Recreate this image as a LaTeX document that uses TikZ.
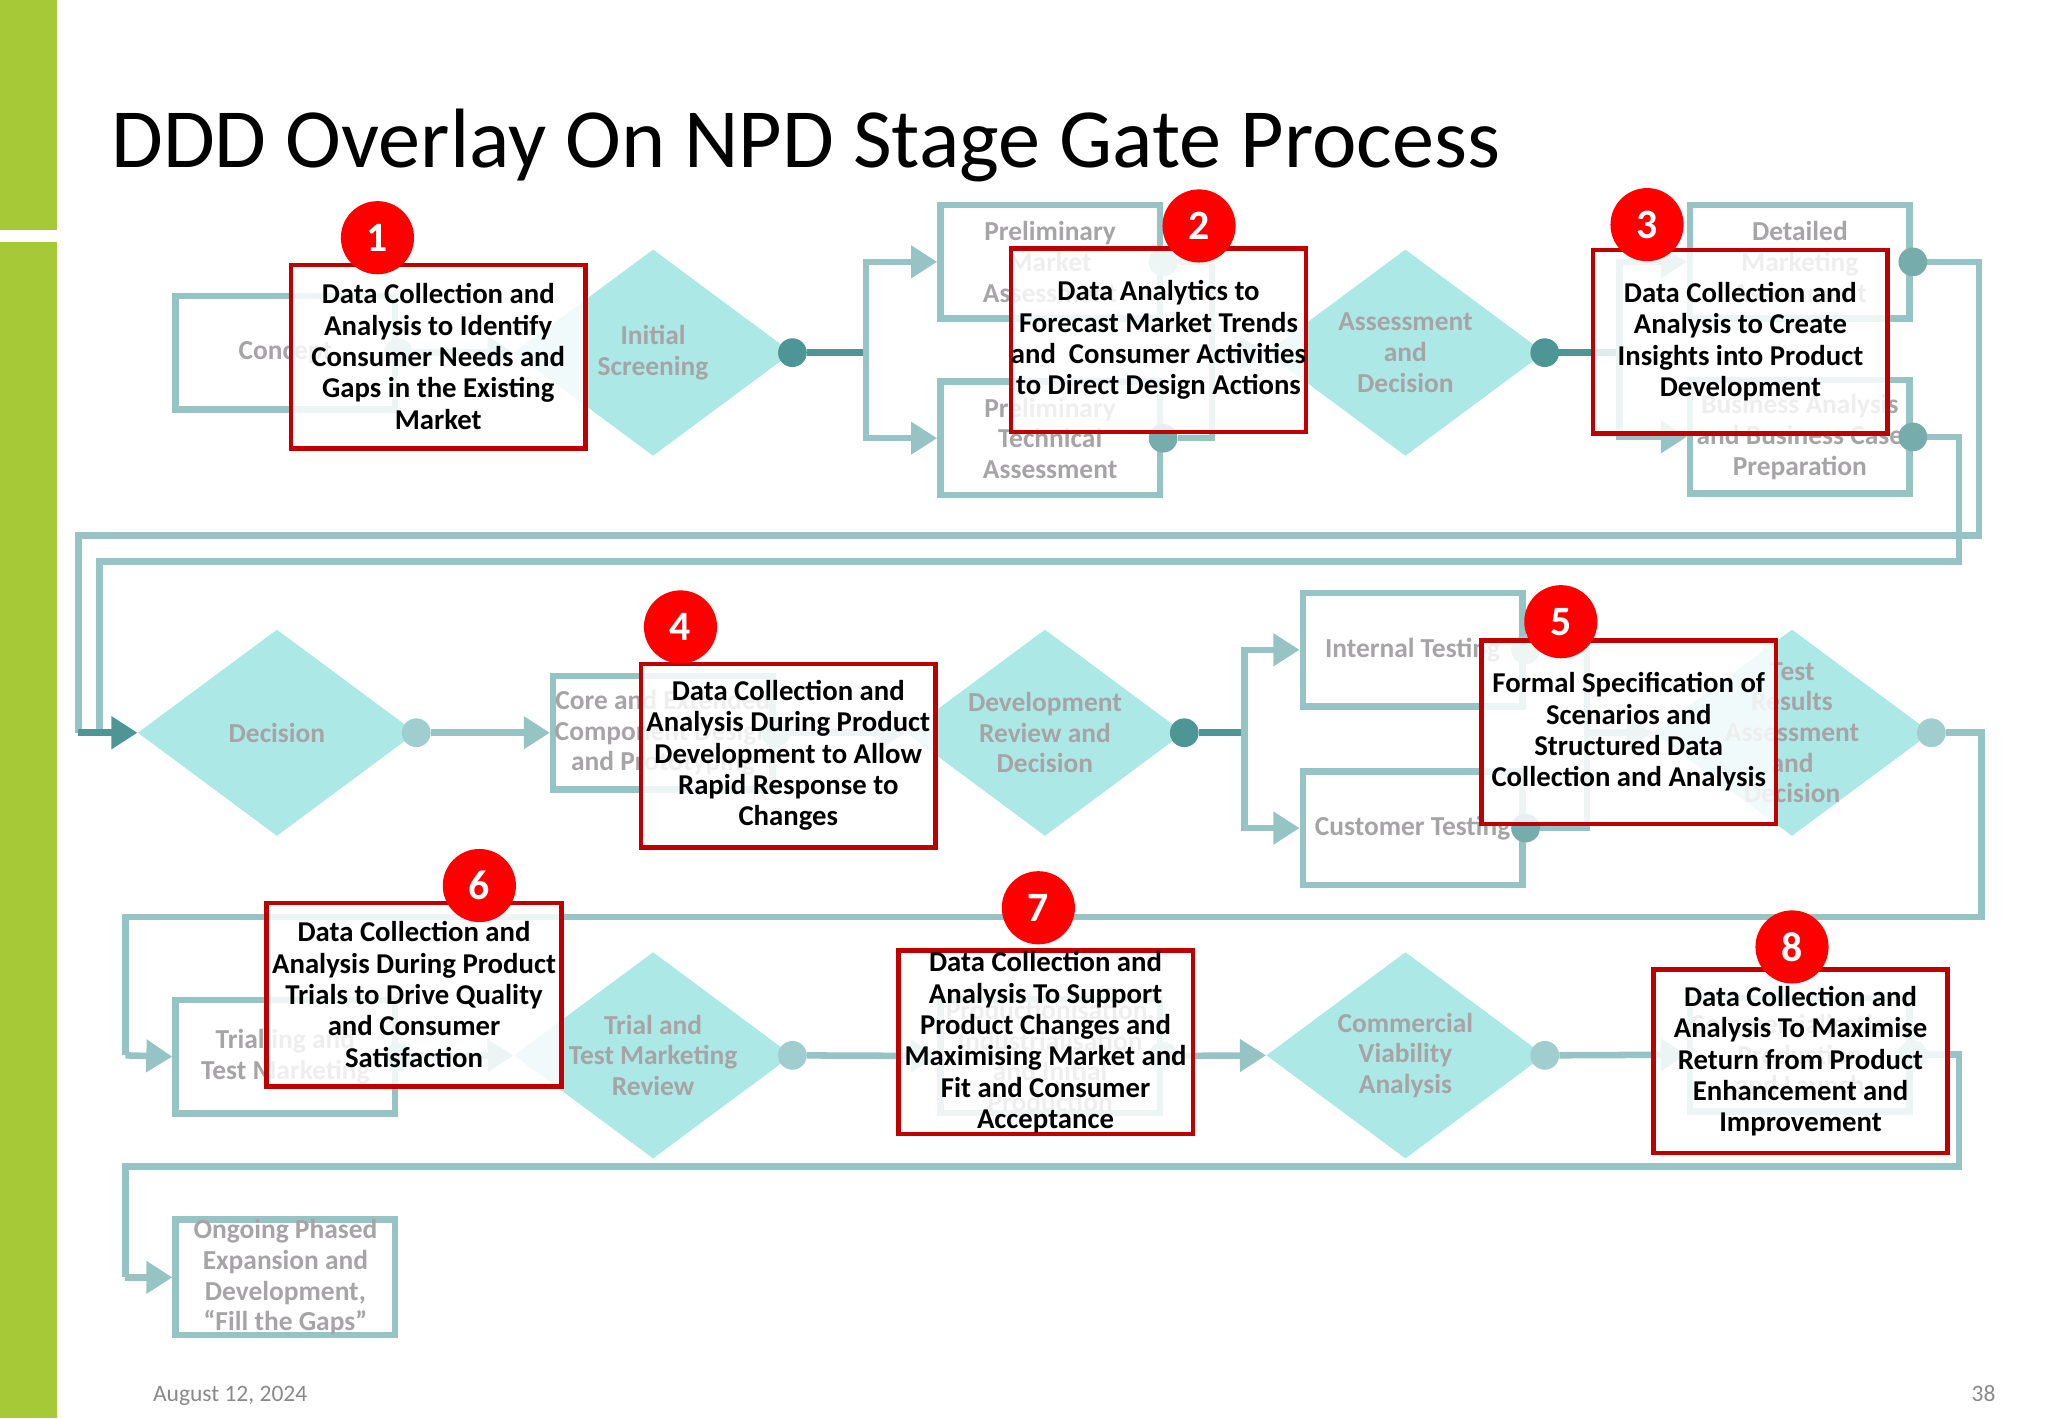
\documentclass[tikz,border=0pt]{standalone}
\usepackage{fontspec}
\setmainfont{Carlito}
\usetikzlibrary{arrows.meta,shapes.geometric,backgrounds}
\definecolor{greenbar}{RGB}{166,201,55}
\definecolor{tealc}{RGB}{150,196,196}
\definecolor{tealdk}{RGB}{78,150,150}
\definecolor{tealmd}{RGB}{118,172,172}
\definecolor{teallt}{RGB}{160,205,205}
\definecolor{tealfd}{RGB}{205,228,228}
\definecolor{diac}{RGB}{172,232,230}
\definecolor{ptextc}{RGB}{166,164,166}
\definecolor{redbox}{RGB}{192,0,0}
\definecolor{redcirc}{RGB}{255,0,0}
\definecolor{footc}{RGB}{137,137,137}
\tikzset{
  pbox/.style={draw=tealc, line width=5pt, fill=white, minimum width=168pt, minimum height=87pt,
    inner sep=0pt, text=ptextc, font=\fontsize{21}{23.5}\selectfont\bfseries, align=center},
  ptext/.style={text=ptextc, font=\fontsize{21}{23.5}\selectfont\bfseries, align=center, inner sep=0pt},
  dia/.style={diamond, fill=diac, minimum width=213pt, minimum height=158pt, inner sep=0pt},
  dotn/.style={circle, minimum size=22pt, inner sep=0pt, fill=#1},
  conn/.style={draw=tealc, line width=5pt},
  conndk/.style={draw=tealdk, line width=5pt},
  arr/.style={-{Triangle[length=20pt,width=24pt]}},
  redb/.style={draw=redbox, line width=3.5pt, fill=white, fill opacity=0.82, text opacity=1,
    minimum width=225.5pt, minimum height=140.5pt, inner sep=0pt,
    font=\fontsize{22}{24}\selectfont\bfseries, align=center, text=black},
  numc/.style={circle, fill=redcirc, minimum size=56pt, inner sep=0pt, text=white,
    font=\fontsize{32}{32}\selectfont\bfseries},
}
\begin{document}
\begin{tikzpicture}[x=1pt,y=-1pt]
\useasboundingbox (0,0) rectangle (1568,1086);
% green bar
\fill[greenbar] (0,0) rectangle (44,176);
\fill[greenbar] (0,185) rectangle (44,1086);

% title
\node[anchor=base west, inner sep=0pt, font=\fontsize{64.5}{72}\selectfont] (title) at (85,128) {DDD Overlay On NPD Stage Gate Process};

% ---- process boxes ----
\node[pbox] (concept) at (218.5,270) {Concept};
\node[pbox] (pma) at (804,200.5) {Preliminary\\Market\\Assessment};
\node[pbox] (pta) at (804,335.5) {Preliminary\\Technical\\Assessment};
\node[pbox] (dma) at (1378,200.5) {Detailed\\Marketing\\Assessment};
\node[pbox] (bab) at (1378,334.5) {Business Analysis\\and Business Case\\Preparation};
\node[pbox] (core) at (507.5,561) {Core and Extended\\Component Design\\and Prototyping};
\node[pbox] (internal) at (1081.5,497.5) {Internal Testing};
\node[pbox] (customer) at (1081.5,634) {Customer Testing};
\node[pbox] (trialling) at (218.5,809) {Trialling and\\Test Marketing};
\node[pbox] (product) at (804,808.5) {Productionisation,\\Industrialisation\\and Initial\\Production};
\node[pbox] (commercial) at (1378,807.5) {Commercialisation,\\Production\\and Launch};
\node[pbox] (ongoing) at (218.5,978) {Ongoing Phased\\Expansion and\\Development,\\“Fill the Gaps”};

% ---- diamonds ----
\node[dia] (screen) at (500,270) {};
\node[dia] (assess) at (1076,270) {};
\node[dia] (decision) at (212,561) {};
\node[dia] (devrev) at (800,561) {};
\node[dia] (testres) at (1372,561) {};
\node[dia] (trialrev) at (500,808) {};
\node[dia] (commvia) at (1076,808) {};
\node[ptext] (screent) at (screen.center) {Initial\\Screening};
\node[ptext] (assesst) at (assess.center) {Assessment\\and\\Decision};
\node[ptext] (decisiont) at (decision.center) {Decision};
\node[ptext] (devrevt) at (devrev.center) {Development\\Review and\\Decision};
\node[ptext] (testrest) at (testres.center) {Test\\Results\\Assessment\\and\\Decision};
\node[ptext] (trialrevt) at (trialrev.center) {Trial and\\Test Marketing\\Review};
\node[ptext] (commviat) at (commvia.center) {Commercial\\Viability\\Analysis};

% ---- dots ----
\node[dotn=teallt] (dcon) at (concept.east) {};
\node[dotn=tealdk] (dscr) at (screen.east) {};
\node[dotn=teallt] (dpma) at (pma.east) {};
\node[dotn=tealmd] (dpta) at (pta.east) {};
\node[dotn=tealdk] (dass) at (assess.east) {};
\node[dotn=tealmd] (ddma) at (dma.east) {};
\node[dotn=tealmd] (dbab) at (bab.east) {};
\node[dotn=teallt] (ddec) at (decision.east) {};
\node[dotn=teallt] (dcore) at (core.east) {};
\node[dotn=tealdk] (ddev) at (devrev.east) {};
\node[dotn=teallt] (dint) at (internal.east) {};
\node[dotn=tealmd] (dcus) at (customer.east) {};
\node[dotn=teallt] (dtes) at (testres.east) {};
\node[dotn=teallt] (dtri) at (trialling.east) {};
\node[dotn=teallt] (dtrv) at (trialrev.east) {};
\node[dotn=teallt] (dpro) at (product.east) {};
\node[dotn=teallt] (dcv) at (commvia.east) {};
\node[dotn=teallt] (dcom) at (commercial.east) {};

% ---- connectors ----
\coordinate (f1) at (663,270);
\coordinate (j1) at (928,270);
\coordinate (f2) at (1240,270);
\coordinate (r1) at (1515,410);
\coordinate (l1) at (60,561);
\coordinate (r2) at (1500,430);
\coordinate (l2) at (76,561);
\coordinate (f3) at (953,561);
\coordinate (j2) at (1215,561);
\coordinate (r3) at (1517,702);
\coordinate (l3) at (96,808);
\coordinate (r4) at (1500,893);
\coordinate (l4) at (96,978);
\begin{scope}[on background layer]
\draw[conn,arr] (dcon) -- (screen.west);
\draw[conndk] (dscr) -- (f1);
\draw[conn,arr] (f1) |- (pma.west);
\draw[conn,arr] (f1) |- (pta.west);
\draw[conn] (dpma) -| (j1);
\draw[conn] (dpta) -| (j1);
\draw[conn,arr] (j1) -- (assess.west);
\draw[conndk] (dass) -- (f2);
\draw[conn,arr] (f2) |- (dma.west);
\draw[conn,arr] (f2) |- (bab.west);
\draw[conn] (ddma) -| (r1) -| (l1);
\draw[conn] (dbab) -| (r2) -| (l2);
\draw[conndk,arr] (l1) -- (decision.west);
\draw[conn,arr] (ddec) -- (core.west);
\draw[conn,arr] (dcore) -- (devrev.west);
\draw[conndk] (ddev) -- (f3);
\draw[conn,arr] (f3) |- (internal.west);
\draw[conn,arr] (f3) |- (customer.west);
\draw[conn] (dint) -| (j2);
\draw[conn] (dcus) -| (j2);
\draw[conn,arr] (j2) -- (testres.west);
\draw[conn] (dtes) -| (r3) -| (l3);
\draw[conn,arr] (l3) -- (trialling.west);
\draw[conn,arr] (dtri) -- (trialrev.west);
\draw[conn,arr] (dtrv) -- (product.west);
\draw[conn,arr] (dpro) -- (commvia.west);
\draw[conn,arr] (dcv) -- (commercial.west);
\draw[conn] (dcom) -| (r4) -| (l4);
\draw[conn,arr] (l4) -- (ongoing.west);
\end{scope}

% ---- red overlay boxes ----
\node[redb] (b1) at (335.5,273) {Data Collection and\\Analysis to Identify\\Consumer Needs and\\Gaps in the Existing\\Market};
\node[redb] (b2) at (887,260.5) {Data Analytics to\\Forecast Market Trends\\and\ \ Consumer Activities\\to Direct Design Actions};
\node[redb] (b3) at (1332.5,261.5) {Data Collection and\\Analysis to Create\\Insights into Product\\Development};
\node[redb] (b4) at (603.5,578.5) {Data Collection and\\Analysis During Product\\Development to Allow\\Rapid Response to\\Changes};
\node[redb] (b5) at (1247,560.5) {Formal Specification of\\Scenarios and\\Structured Data\\Collection and Analysis};
\node[redb] (b6) at (317,761.5) {Data Collection and\\Analysis During Product\\Trials to Drive Quality\\and Consumer\\Satisfaction};
\node[redb] (b7) at (800.5,798) {Data Collection and\\Analysis To Support\\Product Changes and\\Maximising Market and\\Fit and Consumer\\Acceptance};
\node[redb] (b8) at (1378.5,812.5) {Data Collection and\\Analysis To Maximise\\Return from Product\\Enhancement and\\Improvement};

% ---- number circles ----
\node[numc] (n1) at (289,182) {1};
\node[numc] (n2) at (918,173) {2};
\node[numc] (n3) at (1261,172) {3};
\node[numc] (n4) at (521,480) {4};
\node[numc] (n5) at (1195,476) {5};
\node[numc] (n6) at (367,678) {6};
\node[numc] (n7) at (795,695) {7};
\node[numc] (n8) at (1372,725) {8};

% ---- footer ----
\node[anchor=base west, inner sep=0pt, text=footc, font=\fontsize{18}{20}\selectfont] (date) at (117,1073) {August 12, 2024};
\node[anchor=base east, inner sep=0pt, text=footc, font=\fontsize{18}{20}\selectfont] (page) at (1528,1073) {38};
\end{tikzpicture}
\end{document}
